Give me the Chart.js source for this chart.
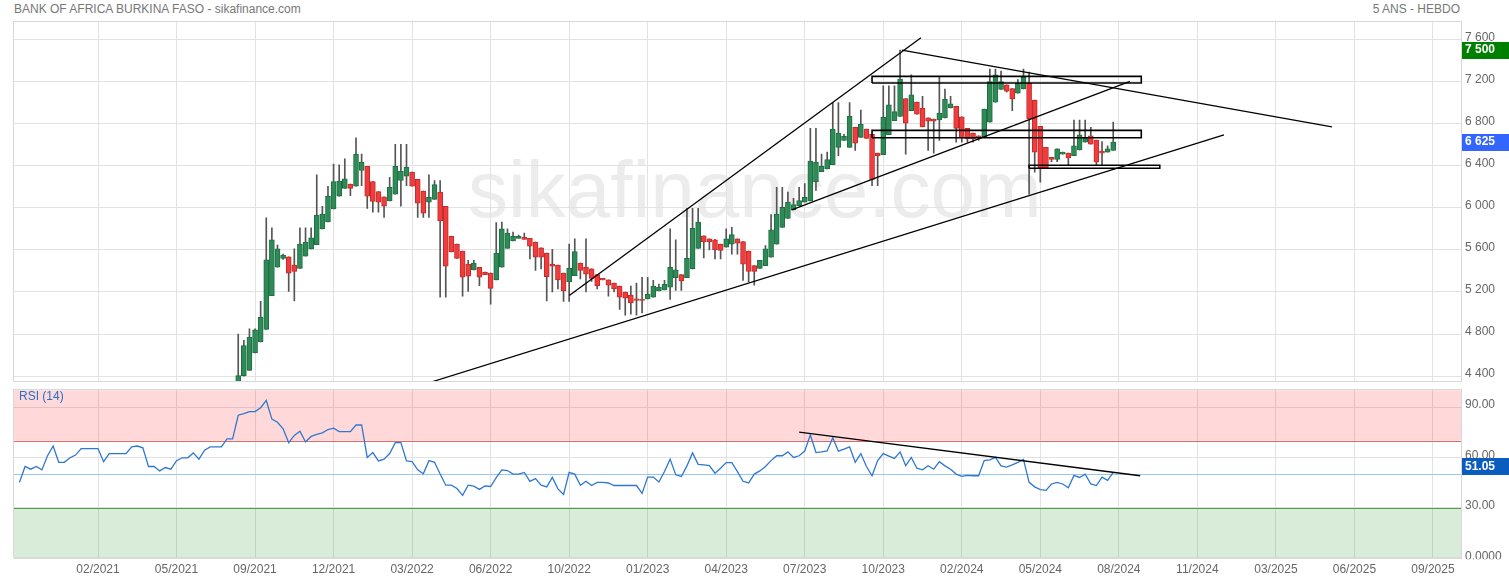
<!DOCTYPE html>
<html><head><meta charset="utf-8">
<script src="https://cdn.jsdelivr.net/npm/chart.js@4.4.1/dist/chart.umd.min.js"></script>
<style>
html,body{margin:0;padding:0;background:#fff;}
#wrap{position:relative;width:1509px;height:580px;overflow:hidden;font-family:"Liberation Sans",Arial,sans-serif;}
.txt{position:absolute;font-size:12px;color:#777;white-space:nowrap;line-height:14px;}
#wm{position:absolute;left:468px;top:150px;font-size:80px;line-height:80px;color:#ececec;white-space:nowrap;}
canvas{position:absolute;left:0;}
</style></head>
<body><div id="wrap">
<div class="txt" style="left:14px;top:2px">BANK OF AFRICA BURKINA FASO - sikafinance.com</div>
<div class="txt" style="right:49px;top:2px">5 ANS - HEBDO</div>
<div id="wm">sikafinance.com</div>
<canvas id="price" style="top:0" width="1509" height="392"></canvas>
<canvas id="rsi" style="top:380px" width="1509" height="200"></canvas>
<div class="txt" style="left:19px;top:389px;color:#2a6fc8">RSI (14)</div>
</div>
<script>
// ---------- DATA ----------
const tickLabels = ["02/2021","05/2021","09/2021","12/2021","03/2022","06/2022","10/2022","01/2023","04/2023","07/2023","10/2023","02/2024","05/2024","08/2024","11/2024","03/2025","06/2025","09/2025"];
const firstTickWeek = 15, weeksPerTick = 14;
const yTicks = [4400,4800,5200,5600,6000,6400,6800,7200,7600];
const rsiTicks = [0,30,60,90];
const rsiTickLabels = ["0.0000","30.00","60.00","90.00"];

const candleStart = 40;
const opens  = [4300,4405,4455,4620,4725,4845,5165,5435,5520,5535,5455,5425,5540,5610,5650,5800,5865,5990,6110,6185,6225,6205,6355,6395,6250,6155,6105,6065,6130,6260,6300,6340,6270,6160,6055,6080,6150,6015,5730,5655,5590,5465,5410,5435,5390,5380,5315,5435,5615,5685,5710,5720,5710,5675,5620,5570,5465,5455,5380,5295,5355,5475,5435,5420,5365,5330,5315,5285,5255,5200,5170,5135,5125,5135,5150,5210,5220,5245,5335,5365,5335,5420,5615,5735,5705,5695,5655,5625,5655,5705,5680,5590,5450,5425,5450,5530,5655,5815,5900,5980,6020,6055,6065,6250,6345,6370,6410,6575,6640,6575,6765,6670,6750,6700,6520,6505,6695,6830,6870,7040,6925,7005,6945,6855,6845,6835,6855,6950,6965,6865,6755,6710,6685,6670,6815,7005,7125,7170,7135,7090,7130,7185,7025,6775,6575,6480,6460,6510,6520,6495,6550,6625,6685,6645,6540,6530,6545];
const highs  = [4800,4740,4850,4850,5110,5905,5810,5645,5560,5535,5610,5810,5810,5810,6315,6015,6205,6415,6410,6465,6225,6665,6510,6395,6250,6155,6105,6290,6605,6605,6605,6340,6270,6160,6315,6260,6260,6015,5730,5655,5590,5500,5500,5435,5390,5380,5860,5865,5800,5770,5740,5760,5710,5675,5620,5570,5605,5455,5380,5655,5705,5475,5705,5420,5365,5330,5315,5285,5255,5200,5255,5285,5340,5340,5310,5275,5310,5800,5695,5365,5995,5995,5995,5735,5705,5700,5655,5800,5815,5705,5680,5590,5450,5500,5640,5935,6195,6195,6150,6090,6195,6230,6755,6755,6510,6530,7000,7000,6700,7000,6765,6930,6750,6700,6520,7160,7160,7160,7500,7040,7265,7005,7060,6855,6845,7250,7130,7060,6965,6865,6755,6710,6685,6940,7320,7320,7300,7170,7135,7220,7320,7290,7025,6775,6575,6480,6560,6530,6520,6835,6835,6835,6765,6645,6630,6590,6815];
const lows   = [4280,4400,4455,4620,4725,4845,5165,5435,5510,5205,5115,5425,5540,5610,5650,5800,5865,5990,6110,6185,6115,6205,6210,5995,5960,5960,5910,6065,6130,6015,6210,6205,5910,5910,5910,6080,5150,5150,5580,5520,5160,5205,5410,5260,5365,5085,5315,5435,5615,5685,5710,5700,5515,5405,5420,5115,5200,5230,5110,5110,5355,5325,5200,5300,5230,5315,5160,5200,5035,4980,4990,4980,5000,5135,5150,5210,5220,5130,5215,5215,5335,5420,5615,5525,5600,5515,5515,5625,5560,5560,5310,5295,5265,5425,5450,5530,5655,5815,5900,5980,6020,6055,6065,6165,6345,6370,6410,6495,6640,6575,6545,6670,6660,6210,6210,6505,6695,6830,6870,6510,6925,6890,6770,6545,6520,6640,6855,6950,6625,6625,6625,6625,6640,6670,6815,7005,7125,7100,6925,7090,7130,6130,6340,6245,6380,6440,6440,6510,6400,6495,6550,6625,6605,6400,6400,6530,6545];
const closes = [4405,4690,4770,4840,4960,5505,5695,5610,5550,5380,5395,5655,5675,5715,5930,5940,6110,6250,6255,6275,6185,6510,6435,6110,6060,6055,6015,6195,6395,6350,6385,6205,6045,5950,6100,6220,5875,5445,5580,5520,5340,5350,5475,5340,5365,5235,5570,5800,5760,5730,5730,5700,5635,5530,5530,5345,5445,5315,5210,5425,5585,5405,5370,5330,5260,5315,5265,5230,5150,5140,5095,5120,5120,5180,5255,5245,5275,5435,5410,5305,5520,5805,5865,5675,5675,5600,5595,5705,5745,5665,5465,5395,5395,5500,5610,5790,5940,6005,6055,6030,6070,6100,6445,6435,6395,6460,6750,6710,6680,6870,6615,6795,6660,6270,6495,6860,6980,6915,7225,6805,7075,6890,6770,6825,6825,6900,7035,6990,6755,6665,6655,6655,6665,6940,7200,7265,7200,7110,7035,7185,7240,6845,6530,6380,6380,6460,6560,6530,6475,6590,6695,6660,6605,6435,6520,6560,6625];

const rsiStart = 1;
const rsiValues = [45.2,54.6,53.0,54.6,52.6,61.0,66.8,57.1,57.1,59.8,61.4,65.3,65.3,65.3,65.3,57.5,62.3,62.3,62.3,62.3,66.3,66.8,65.7,54.6,54.6,52.0,54.0,53.0,58.1,59.8,59.8,62.7,59.0,64.3,66.3,66.3,66.3,71.1,71.1,85.1,86.1,87.3,87.3,89.6,93.9,82.8,80.9,77.0,68.8,73.1,75.6,69.2,72.5,73.7,74.6,76.6,77.4,75.4,75.4,75.4,79.3,79.3,60.0,62.9,57.9,59.0,62.3,68.8,68.8,57.9,57.5,52.6,50.3,58.1,57.1,50.1,43.5,43.5,41.5,37.4,43.5,42.9,41.0,43.0,42.7,48.0,52.6,52.2,50.1,50.1,51.1,45.8,47.4,43.5,42.5,48.1,41.3,38.0,51.1,50.1,43.5,45.8,43.3,45.2,45.2,44.8,43.3,43.3,43.3,43.3,43.3,38.6,48.3,48.3,45.4,51.6,59.0,49.7,48.7,55.0,62.7,55.9,55.6,55.1,50.6,53.6,56.9,56.9,51.6,45.8,44.8,50.1,52.0,54.6,58.1,61.0,61.0,63.3,60.0,61.0,63.8,73.5,62.9,63.3,63.9,71.7,63.7,64.9,66.3,57.1,62.3,54.6,49.1,58.1,62.3,60.8,59.4,63.3,55.1,60.0,53.6,52.6,55.1,53.0,57.5,55.0,53.0,50.1,48.7,49.3,49.1,49.1,58.1,58.5,60.0,55.0,54.2,55.6,57.1,58.8,45.2,42.5,40.9,40.4,44.2,45.2,44.2,41.9,49.3,48.1,50.1,44.2,43.3,48.3,46.4,51.05];
const rsiLevels = [30,50,70];

// drawn objects: [week1, value1, week2, value2]
const priceLines = [[74.54,4346,215.74,6693],[99.02,5166,161.72,7618],[138.67,5980,198.98,7203],[158.32,7500,235.0,6770]];
const priceBoxes = [[153,7187,201,7250],[153,6667,201,6737],[181,6376,204.3,6405]];
const rsiLines = [[140.0,75.0,200.8,49.1]];
const highBadge = 7500;

// ---------- HELPERS ----------
const xMin = 0.024, xMax = 258.18;
const tickWeeks = tickLabels.map((_, k) => firstTickWeek + k * weeksPerTick);
const fmt = v => String(v).replace(/\B(?=(\d{3})+(?!\d))/g, ' ');
const GREEN = '#2e8b57', GREEN_B = '#1f6e42', RED = '#f03c3c', RED_B = '#c42a2a';
const GRID = '#e2e2e2';

const wickData = highs.map((h, i) => ({x: candleStart + i, y: [lows[i], h]}));
const bodyData = opens.map((o, i) => ({x: candleStart + i, y: [o, closes[i]]}));
const isUp = ctx => ctx.raw && ctx.raw.y[1] >= ctx.raw.y[0];

const lineDs = (pts, w) => ({type: 'line', data: pts, borderColor: '#000', borderWidth: w, pointRadius: 0, fill: false, tension: 0, order: 0});

const priceDatasets = [
  {type: 'bar', data: wickData, backgroundColor: '#555', barThickness: 1, grouped: false, order: 3},
  {type: 'bar', data: bodyData, grouped: false, order: 2, barThickness: 5, minBarLength: 1,
   borderWidth: 1, borderSkipped: false,
   backgroundColor: c => isUp(c) ? GREEN : RED,
   borderColor: c => isUp(c) ? GREEN_B : RED_B},
  ...priceLines.map(l => lineDs([{x: l[0], y: l[1]}, {x: l[2], y: l[3]}], 1.3)),
  ...priceBoxes.map(b => lineDs([{x: b[0], y: b[1]}, {x: b[2], y: b[1]}, {x: b[2], y: b[3]}, {x: b[0], y: b[3]}, {x: b[0], y: b[1]}], 1.6))
];

const frame = {
  id: 'frame',
  afterDatasetsDraw(chart) {
    const a = chart.chartArea, c = chart.ctx;
    c.save(); c.strokeStyle = '#d8d8d8'; c.lineWidth = 1;
    c.strokeRect(Math.round(a.left) - 0.5, Math.round(a.top) - 0.5, Math.round(a.right - a.left), Math.round(a.bottom - a.top));
    c.restore();
  }
};

function badge(chart, value, text, color, dy) {
  const c = chart.ctx, a = chart.chartArea;
  const y = chart.scales.y.getPixelForValue(value) + (dy || 0);
  c.save();
  c.fillStyle = color;
  c.fillRect(a.right, Math.round(y - 8.5), chart.width - a.right, 17);
  c.fillStyle = '#fff';
  c.font = 'bold 12px "Liberation Sans", Arial, sans-serif';
  c.textBaseline = 'middle';
  c.fillText(text, a.right + 3, y);
  c.restore();
}

const priceBadges = {
  id: 'priceBadges',
  afterDraw(chart) {
    badge(chart, highBadge, fmt(highBadge), '#008000');
    const last = closes[closes.length - 1];
    badge(chart, last, fmt(last), '#3366ff');
  }
};

const tickFont = {family: '"Liberation Sans", Arial, sans-serif', size: 12};

new Chart(document.getElementById('price'), {
  type: 'bar',
  data: {datasets: priceDatasets},
  options: {
    responsive: false, animation: false, devicePixelRatio: 1,
    layout: {padding: {left: 14, top: 22, right: 0, bottom: 9}},
    plugins: {legend: {display: false}, tooltip: {enabled: false}},
    scales: {
      x: {type: 'linear', min: xMin, max: xMax, offset: false,
          afterBuildTicks: s => { s.ticks = tickWeeks.map(v => ({value: v})); },
          afterFit: s => { s.height = 0; },
          ticks: {display: false},
          grid: {color: GRID, drawTicks: false, offset: false}, border: {display: false}},
      y: {type: 'linear', position: 'right', min: 4346, max: 7767,
          afterBuildTicks: s => { s.ticks = yTicks.map(v => ({value: v})); },
          afterFit: s => { s.width = 47; },
          ticks: {callback: v => fmt(v), color: '#666', font: tickFont, padding: 3, labelOffset: -2},
          grid: {color: GRID, drawTicks: false, offset: false}, border: {display: false}}
    }
  },
  plugins: [frame, priceBadges]
});

const rsiZones = {
  id: 'rsiZones',
  beforeDatasetsDraw(chart) {
    const c = chart.ctx, a = chart.chartArea, y = chart.scales.y;
    c.save();
    c.fillStyle = 'rgba(255,0,0,0.15)';
    c.fillRect(a.left, y.getPixelForValue(100), a.right - a.left, y.getPixelForValue(rsiLevels[2]) - y.getPixelForValue(100));
    c.fillStyle = 'rgba(0,128,0,0.15)';
    c.fillRect(a.left, y.getPixelForValue(rsiLevels[0]), a.right - a.left, y.getPixelForValue(0) - y.getPixelForValue(rsiLevels[0]));
    const cols = ['#4f9f4f', '#9cc6f2', '#ee6363'];
    rsiLevels.forEach((lv, k) => {
      const py = Math.round(y.getPixelForValue(lv)) + 0.5;
      c.strokeStyle = cols[k]; c.lineWidth = 1;
      c.beginPath(); c.moveTo(a.left, py); c.lineTo(a.right, py); c.stroke();
    });
    c.restore();
  },
  afterDraw(chart) {
    const c = chart.ctx, a = chart.chartArea;
    c.save(); c.fillStyle = '#fff';
    c.fillRect(a.right + 1, a.bottom + 1, chart.width - a.right, 14);
    c.restore();
    badge(chart, rsiValues[rsiValues.length - 1], rsiValues[rsiValues.length - 1].toFixed(2), '#0a5cbf', -6);
  }
};

new Chart(document.getElementById('rsi'), {
  type: 'line',
  data: {datasets: [
    {data: rsiValues.map((v, i) => ({x: rsiStart + i, y: v})), borderColor: '#2f78cf', borderWidth: 1.3, pointRadius: 0, tension: 0, fill: false, order: 1},
    ...rsiLines.map(l => lineDs([{x: l[0], y: l[1]}, {x: l[2], y: l[3]}], 1.3))
  ]},
  options: {
    responsive: false, animation: false, devicePixelRatio: 1,
    layout: {padding: {left: 14, top: 7.3, right: 0, bottom: 0}},
    plugins: {legend: {display: false}, tooltip: {enabled: false}},
    scales: {
      x: {type: 'linear', min: xMin, max: xMax, offset: false,
          afterBuildTicks: s => { s.ticks = tickWeeks.map(v => ({value: v})); },
          afterFit: s => { s.height = 21.7; },
          ticks: {callback: v => tickLabels[tickWeeks.indexOf(v)] || '', color: '#666', font: tickFont, padding: 4, maxRotation: 0, autoSkip: false},
          grid: {color: GRID, drawTicks: false, offset: false}, border: {display: false}},
      y: {type: 'linear', position: 'right', min: 0, max: 100,
          afterBuildTicks: s => { s.ticks = rsiTicks.map(v => ({value: v})); },
          afterFit: s => { s.width = 47; },
          ticks: {callback: v => rsiTickLabels[rsiTicks.indexOf(v)], color: '#666', font: tickFont, padding: 3, labelOffset: -2},
          grid: {color: GRID, drawTicks: false, offset: false}, border: {display: false}}
    }
  },
  plugins: [rsiZones, frame]
});
</script>
</body></html>
